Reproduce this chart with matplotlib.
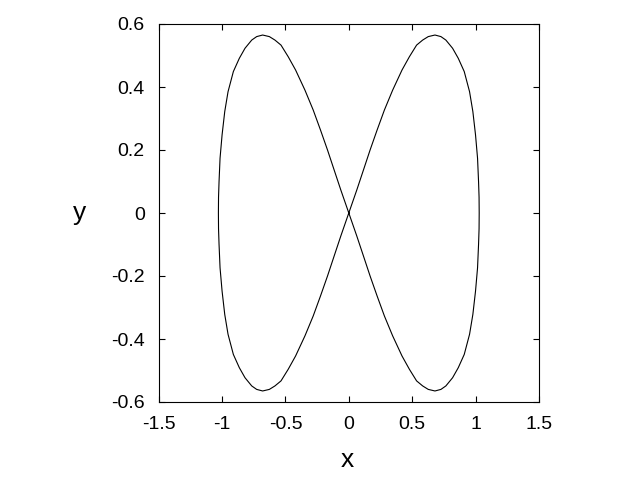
import numpy as np
import matplotlib
matplotlib.use("Agg")
import matplotlib.pyplot as plt

plt.rcParams['font.family'] = ['Liberation Sans', 'DejaVu Sans']

# upper-left quarter of the figure-eight
# (origin -> inner branch -> top of lobe -> outer branch -> leftmost point)
x_quarter = [0, -0.063, -0.116, -0.168, -0.223, -0.281, -0.346, -0.42, -0.478,
             -0.535, -0.583, -0.627, -0.68, -0.727, -0.766, -0.819, -0.864,
             -0.911, -0.953, -0.979, -1.0, -1.016, -1.024, -1.028, -1.029]
y_quarter = [0, 0.073, 0.137, 0.20, 0.263, 0.327, 0.39, 0.454, 0.496,
             0.533, 0.549, 0.560, 0.565, 0.560, 0.549, 0.523, 0.491,
             0.449, 0.385, 0.322, 0.248, 0.174, 0.099, 0.05, 0]

x_ticks = [-1.5, -1, -0.5, 0, 0.5, 1, 1.5]
x_ticklabels = ['-1.5', '-1', '-0.5', '0', '0.5', '1', '1.5']
y_ticks = [-0.6, -0.4, -0.2, 0, 0.2, 0.4, 0.6]
y_ticklabels = ['-0.6', '-0.4', '-0.2', '0', '0.2', '0.4', '0.6']

# the curve is symmetric: build the full loop from the quarter
qx = np.array(x_quarter)
qy = np.array(y_quarter)
left_lobe_x = np.concatenate([qx, qx[::-1][1:]])
left_lobe_y = np.concatenate([qy, -qy[::-1][1:]])
curve_x = np.concatenate([left_lobe_x, -left_lobe_x[1:]])
curve_y = np.concatenate([left_lobe_y, left_lobe_y[1:]])

fig = plt.figure(figsize=(6.4, 4.8), dpi=100)
ax = fig.add_axes([0.248, 0.1625, 0.594, 0.7875])

ax.plot(curve_x, curve_y, color='black', linewidth=0.8)

ax.set_xlim(-1.5, 1.5)
ax.set_ylim(-0.6, 0.6)
ax.set_xticks(x_ticks)
ax.set_xticklabels(x_ticklabels)
ax.set_yticks(y_ticks)
ax.set_yticklabels(y_ticklabels)
ax.tick_params(direction='in', length=4.5, width=0.8, labelsize=14,
               top=True, right=True, pad=10)
for s in ax.spines.values():
    s.set_linewidth(0.8)

ax.set_xlabel('x', fontsize=19)
ax.xaxis.label.set_va('center')
ax.xaxis.set_label_coords(0.495, -0.153)
ax.set_ylabel('y', fontsize=19, rotation=0)
ax.yaxis.label.set_va('center')
ax.yaxis.label.set_ha('center')
ax.yaxis.set_label_coords(-0.208, 0.5)

fig.savefig('out.png', dpi=100)
